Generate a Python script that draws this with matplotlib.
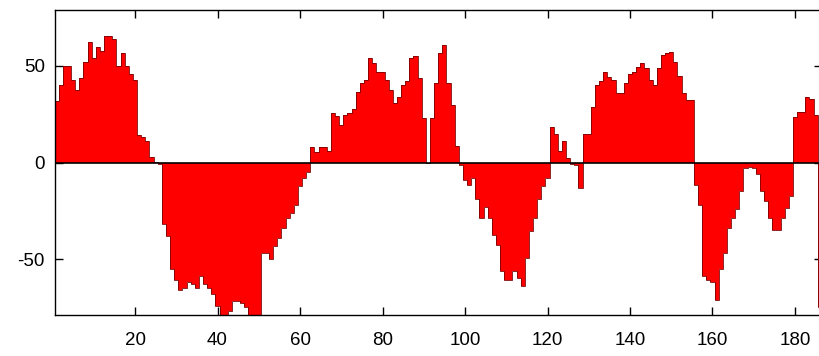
import numpy as np
import matplotlib
matplotlib.use("Agg")
import matplotlib.pyplot as plt

values = [
    32, 40, 50, 50, 42.6, 37.6, 43.6, 52, 62.6, 54,
    60, 58, 65.7, 65.7, 64, 50, 56.5, 50, 46, 42.6,
    14, 13, 11, 3, 0.5, -1, -32, -38, -55, -61,
    -66, -65, -62, -63, -65, -59, -63, -65, -68, -74.5,
    -79, -79, -77, -72, -72, -73, -75, -79, -79, -79,
    -47, -47, -50, -43, -39, -34, -29, -26, -22, -12.4,
    -8, -4.7, 8, 5.5, 8, 8, 5.7, 25.5, 24, 19.5,
    24.6, 25.5, 27.8, 36.7, 41, 42.8, 54, 51.4, 47, 47,
    42.8, 37.6, 30.7, 34, 40, 42, 54, 55, 43.6, 23,
    0, 23, 41, 56.5, 61, 41, 30, 8.3, -1.2, -9,
    -11.5, -8, -19, -29, -23, -29, -37.4, -42.6, -56, -60.7,
    -60.7, -56, -60, -64, -49.5, -35.7, -29, -19, -12.4, -8,
    18.6, 15, 5.7, 10.9, 2.2, -1, -1.5, -13, 15, 15,
    29, 40, 42, 47, 44.5, 42.8, 36, 36, 41, 46,
    47, 49.7, 51.4, 48.8, 42.8, 40, 48.8, 55.7, 56.5, 57.4,
    52, 45, 36, 32.4, 32.4, -11.6, -22, -59, -61, -62,
    -71, -55, -47, -34, -29, -24, -15, -3, -2.5, -3,
    -6, -15, -20, -29, -35, -35, -29, -23.6, -17.6, 23.8,
    26.4, 26.4, 34, 33, 24.6, -75,
]
positions = np.arange(1, len(values) + 1)
xticks = [20, 40, 60, 80, 100, 120, 140, 160, 180]
yticks = [-50, 0, 50]

plt.rcParams['font.family'] = ['Liberation Sans', 'DejaVu Sans']
plt.rcParams['axes.unicode_minus'] = False

fig = plt.figure(figsize=(8.2, 3.56), dpi=100)
W, H = 820, 356
left_px, right_px, top_px, bot_px = 54.6, 821.8, 10, 315
ax = fig.add_axes([left_px / W, 1 - bot_px / H, (right_px - left_px) / W, (bot_px - top_px) / H])

ax.bar(positions, values, width=1.0, color='#ff0000', edgecolor='none', zorder=2)
edges = np.arange(0.5, len(values) + 1.0, 1.0)
ax.stairs(values, edges, baseline=0, color='#7a0000', linewidth=0.6, zorder=3)
ax.axhline(0, color='black', linewidth=1.2, zorder=4)

ax.set_xlim(0.5, len(values) + 0.5)
ax.set_ylim(-79, 79)
ax.set_xticks(xticks)
ax.set_yticks(yticks)
ax.tick_params(direction='in', length=5.5, width=1.0, top=True, right=True,
               labelsize=13.5, colors='black')
ax.tick_params(axis='x', pad=12)
ax.tick_params(axis='y', pad=7)
for s in ax.spines.values():
    s.set_linewidth(1.0)
    s.set_color('black')
    s.set_zorder(5)

fig.savefig('out.png', dpi=100)
